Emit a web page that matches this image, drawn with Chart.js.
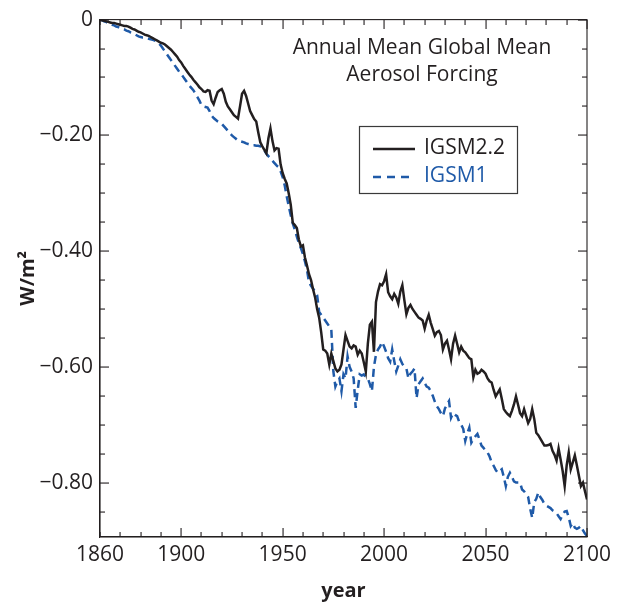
<!DOCTYPE html>
<html>
<head>
<meta charset="utf-8">
<script src="https://cdn.jsdelivr.net/npm/chart.js@4.4.1/dist/chart.umd.min.js"></script>
<style>
  html, body { margin: 0; padding: 0; background: #fff; }
  #wrap { width: 625px; height: 605px; }
</style>
</head>
<body>
<div id="wrap"><canvas id="c" width="625" height="605"></canvas></div>
<script>
// ---- Data (annual values, 1860..2100) ----
const START_YEAR = 1860;
const END_YEAR = 2100;

const igsm22 = [
  0, -0.001, -0.002, -0.003, -0.004, -0.005, -0.006, -0.006, -0.007, -0.008,
  -0.009, -0.010, -0.011, -0.011, -0.012, -0.014, -0.016, -0.017, -0.019, -0.021,
  -0.022, -0.024, -0.026, -0.027, -0.028, -0.030, -0.032, -0.034, -0.036, -0.038,
  -0.040, -0.041, -0.043, -0.046, -0.049, -0.052, -0.056, -0.060, -0.064, -0.070,
  -0.074, -0.080, -0.085, -0.090, -0.095, -0.099, -0.104, -0.108, -0.112, -0.117,
  -0.120, -0.124, -0.125, -0.122, -0.123, -0.140, -0.146, -0.135, -0.125, -0.122,
  -0.120, -0.128, -0.142, -0.150, -0.155, -0.160, -0.165, -0.168, -0.171, -0.150,
  -0.128, -0.123, -0.132, -0.145, -0.158, -0.165, -0.172, -0.176, -0.195, -0.212,
  -0.219, -0.225, -0.231, -0.205, -0.188, -0.210, -0.226, -0.222, -0.223, -0.250,
  -0.265, -0.275, -0.283, -0.300, -0.320, -0.351, -0.355, -0.360, -0.380, -0.392,
  -0.390, -0.411, -0.425, -0.440, -0.450, -0.466, -0.480, -0.500, -0.515, -0.540,
  -0.570, -0.572, -0.577, -0.596, -0.577, -0.590, -0.603, -0.608, -0.605, -0.596,
  -0.570, -0.545, -0.555, -0.565, -0.568, -0.563, -0.565, -0.579, -0.572, -0.577,
  -0.592, -0.608, -0.560, -0.527, -0.522, -0.574, -0.488, -0.470, -0.457, -0.459,
  -0.452, -0.440, -0.471, -0.478, -0.483, -0.474, -0.480, -0.491, -0.470, -0.459,
  -0.485, -0.509, -0.498, -0.493, -0.500, -0.505, -0.510, -0.515, -0.517, -0.520,
  -0.534, -0.520, -0.510, -0.524, -0.535, -0.546, -0.540, -0.538, -0.545, -0.570,
  -0.560, -0.555, -0.570, -0.587, -0.560, -0.546, -0.560, -0.575, -0.565, -0.572,
  -0.575, -0.580, -0.585, -0.587, -0.618, -0.605, -0.612, -0.610, -0.605, -0.608,
  -0.612, -0.620, -0.625, -0.627, -0.640, -0.651, -0.645, -0.639, -0.655, -0.673,
  -0.678, -0.682, -0.685, -0.676, -0.665, -0.651, -0.665, -0.680, -0.685, -0.673,
  -0.685, -0.697, -0.690, -0.673, -0.690, -0.714, -0.718, -0.724, -0.730, -0.736,
  -0.736, -0.735, -0.733, -0.745, -0.752, -0.762, -0.741, -0.760, -0.780, -0.806,
  -0.770, -0.748, -0.777, -0.765, -0.753, -0.770, -0.788, -0.806, -0.800, -0.815,
  -0.829
];

const igsm1 = [
  0, -0.001, -0.003, -0.004, -0.006, -0.007, -0.009, -0.010, -0.012, -0.013,
  -0.015, -0.016, -0.017, -0.019, -0.020, -0.022, -0.023, -0.025, -0.027, -0.029,
  -0.030, -0.031, -0.031, -0.032, -0.033, -0.034, -0.035, -0.036, -0.038, -0.041,
  -0.045, -0.050, -0.055, -0.060, -0.065, -0.070, -0.075, -0.080, -0.085, -0.090,
  -0.094, -0.099, -0.104, -0.109, -0.114, -0.118, -0.122, -0.128, -0.134, -0.140,
  -0.148, -0.150, -0.151, -0.152, -0.158, -0.166, -0.170, -0.173, -0.176, -0.178,
  -0.180, -0.184, -0.188, -0.192, -0.196, -0.200, -0.203, -0.206, -0.209, -0.210,
  -0.211, -0.212, -0.214, -0.215, -0.216, -0.217, -0.217, -0.218, -0.218, -0.219,
  -0.222, -0.226, -0.232, -0.236, -0.240, -0.244, -0.248, -0.252, -0.255, -0.262,
  -0.272, -0.286, -0.305, -0.322, -0.338, -0.352, -0.363, -0.375, -0.386, -0.395,
  -0.405, -0.418, -0.432, -0.454, -0.460, -0.465, -0.470, -0.476, -0.505, -0.510,
  -0.515, -0.520, -0.525, -0.530, -0.536, -0.608, -0.634, -0.625, -0.620, -0.642,
  -0.613, -0.620, -0.582, -0.600, -0.608, -0.620, -0.671, -0.640, -0.613, -0.615,
  -0.613, -0.618, -0.620, -0.630, -0.642, -0.600, -0.579, -0.570, -0.565, -0.557,
  -0.565, -0.574, -0.585, -0.591, -0.570, -0.590, -0.608, -0.598, -0.587, -0.595,
  -0.600, -0.603, -0.620, -0.612, -0.608, -0.603, -0.654, -0.630, -0.625, -0.620,
  -0.628, -0.634, -0.636, -0.642, -0.650, -0.660, -0.668, -0.673, -0.680, -0.685,
  -0.672, -0.665, -0.659, -0.688, -0.680, -0.683, -0.685, -0.695, -0.700, -0.707,
  -0.728, -0.715, -0.705, -0.731, -0.725, -0.720, -0.716, -0.725, -0.736, -0.740,
  -0.745, -0.748, -0.755, -0.765, -0.771, -0.778, -0.783, -0.780, -0.777, -0.790,
  -0.806, -0.790, -0.783, -0.790, -0.798, -0.800, -0.800, -0.800, -0.812, -0.815,
  -0.820, -0.825, -0.845, -0.861, -0.834, -0.828, -0.817, -0.825, -0.830, -0.837,
  -0.840, -0.842, -0.844, -0.848, -0.850, -0.853, -0.858, -0.863, -0.856, -0.850,
  -0.849, -0.860, -0.875, -0.870, -0.878, -0.880, -0.878, -0.875, -0.882, -0.888,
  -0.892
];

const xTickValues = [1860, 1900, 1950, 2000, 2050, 2100];
const yTickValues = [0, -0.2, -0.4, -0.6, -0.8];
const yTickLabels = ['0', '\u22120.20', '\u22120.40', '\u22120.60', '\u22120.80'];
const seriesNames = ['IGSM2.2', 'IGSM1'];
const titleLines = ['Annual Mean Global Mean', 'Aerosol Forcing'];

const years = [];
for (let y = START_YEAR; y <= END_YEAR; y++) years.push(y);

// ---- Styles ----
const INK = '#231f20';
const BLUE = '#1f5aa8';
const FONT = '"Open Sans", "Noto Sans", sans-serif';

const decorPlugin = {
  id: 'decor',
  afterDraw(chart) {
    const ctx = chart.ctx;
    const a = chart.chartArea;
    const xs = chart.scales.x;
    const ys = chart.scales.y;
    ctx.save();
    ctx.setLineDash([]);
    // frame
    ctx.strokeStyle = INK;
    ctx.lineWidth = 1.1;
    ctx.strokeRect(a.left, a.top, a.right - a.left, a.bottom - a.top);
    // ticks (inward), drawn as thin rectangles
    ctx.fillStyle = INK;
    const L = Math.round(a.left), R = Math.round(a.right);
    const T = Math.round(a.top), B = Math.round(a.bottom);
    for (let v = START_YEAR; v <= END_YEAR; v += 10) {
      const px = Math.round(xs.getPixelForValue(v));
      const len = (v % 50 === 0) ? 9 : 5;
      ctx.fillRect(px - 0.5, B - len, 1.1, len);
      ctx.fillRect(px - 0.5, T, 1.1, len);
    }
    for (let k = 0; k <= 17; k++) {
      const py = Math.round(ys.getPixelForValue(-0.05 * k));
      const len = (k % 4 === 0) ? 9 : 5;
      ctx.fillRect(L, py - 0.5, len, 1.1);
      ctx.fillRect(R - len, py - 0.5, len, 1.1);
    }

    // title
    ctx.fillStyle = INK;
    ctx.font = '21px ' + FONT;
    ctx.textAlign = 'center';
    ctx.textBaseline = 'middle';
    ctx.fillText(titleLines[0], 422, 48);
    ctx.fillText(titleLines[1], 422, 75);

    // legend
    ctx.lineWidth = 1.2;
    ctx.strokeStyle = '#3a3a3a';
    ctx.strokeRect(359.5, 126.5, 158, 67);
    ctx.lineWidth = 2.4;
    ctx.strokeStyle = INK;
    ctx.beginPath(); ctx.moveTo(373, 149); ctx.lineTo(415, 149); ctx.stroke();
    ctx.strokeStyle = BLUE;
    ctx.setLineDash([8, 6]);
    ctx.beginPath(); ctx.moveTo(373, 177); ctx.lineTo(415, 177); ctx.stroke();
    ctx.setLineDash([]);
    ctx.textAlign = 'left';
    ctx.font = '21px ' + FONT;
    ctx.fillStyle = INK;
    ctx.fillText(seriesNames[0], 424, 148);
    ctx.fillStyle = BLUE;
    ctx.fillText(seriesNames[1], 424, 176);
    ctx.restore();
  }
};

new Chart(document.getElementById('c'), {
  type: 'line',
  data: {
    datasets: [
      {
        label: seriesNames[0],
        data: years.map((yr, i) => ({x: yr, y: igsm22[i]})),
        borderColor: INK,
        borderWidth: 2.5,
        pointRadius: 0,
        tension: 0,
        fill: false
      },
      {
        label: seriesNames[1],
        data: years.map((yr, i) => ({x: yr, y: igsm1[i]})),
        borderColor: BLUE,
        borderWidth: 2.5,
        borderDash: [8, 5],
        pointRadius: 0,
        tension: 0,
        fill: false
      }
    ]
  },
  options: {
    responsive: false,
    animation: false,
    layout: { padding: { top: 15, right: 38, left: 0, bottom: 0 } },
    plugins: { legend: { display: false }, tooltip: { enabled: false }, title: { display: false } },
    scales: {
      x: {
        type: 'linear',
        min: START_YEAR,
        max: END_YEAR,
        afterBuildTicks: s => { s.ticks = xTickValues.map(v => ({value: v})); },
        afterFit: s => { s.height = 68; },
        ticks: {
          autoSkip: false, maxRotation: 0, padding: 5,
          color: INK, font: { family: FONT, size: 21 },
          callback: v => String(v)
        },
        grid: { display: false, drawTicks: false },
        border: { display: true, color: INK, width: 1.1 },
        title: {
          display: true, text: 'year', color: INK,
          font: { family: FONT, size: 20, weight: 'bold' },
          padding: { top: 4, bottom: 2 }
        }
      },
      y: {
        type: 'linear',
        min: -0.894,
        max: 0,
        afterBuildTicks: s => { s.ticks = yTickValues.map(v => ({value: v})); },
        afterFit: s => { s.width = 100; },
        ticks: {
          autoSkip: false, padding: 7,
          color: INK, font: { family: FONT, size: 21 },
          callback: (v) => {
            const i = yTickValues.findIndex(t => Math.abs(t - v) < 1e-9);
            return i >= 0 ? yTickLabels[i] : '';
          }
        },
        grid: { display: false, drawTicks: false },
        border: { display: true, color: INK, width: 1.1 },
        title: {
          display: true, text: 'W/m\u00B2', color: INK,
          font: { family: FONT, size: 20, weight: 'bold' },
          padding: { top: 16, bottom: 0 }
        }
      }
    }
  },
  plugins: [decorPlugin]
});
</script>
</body>
</html>
